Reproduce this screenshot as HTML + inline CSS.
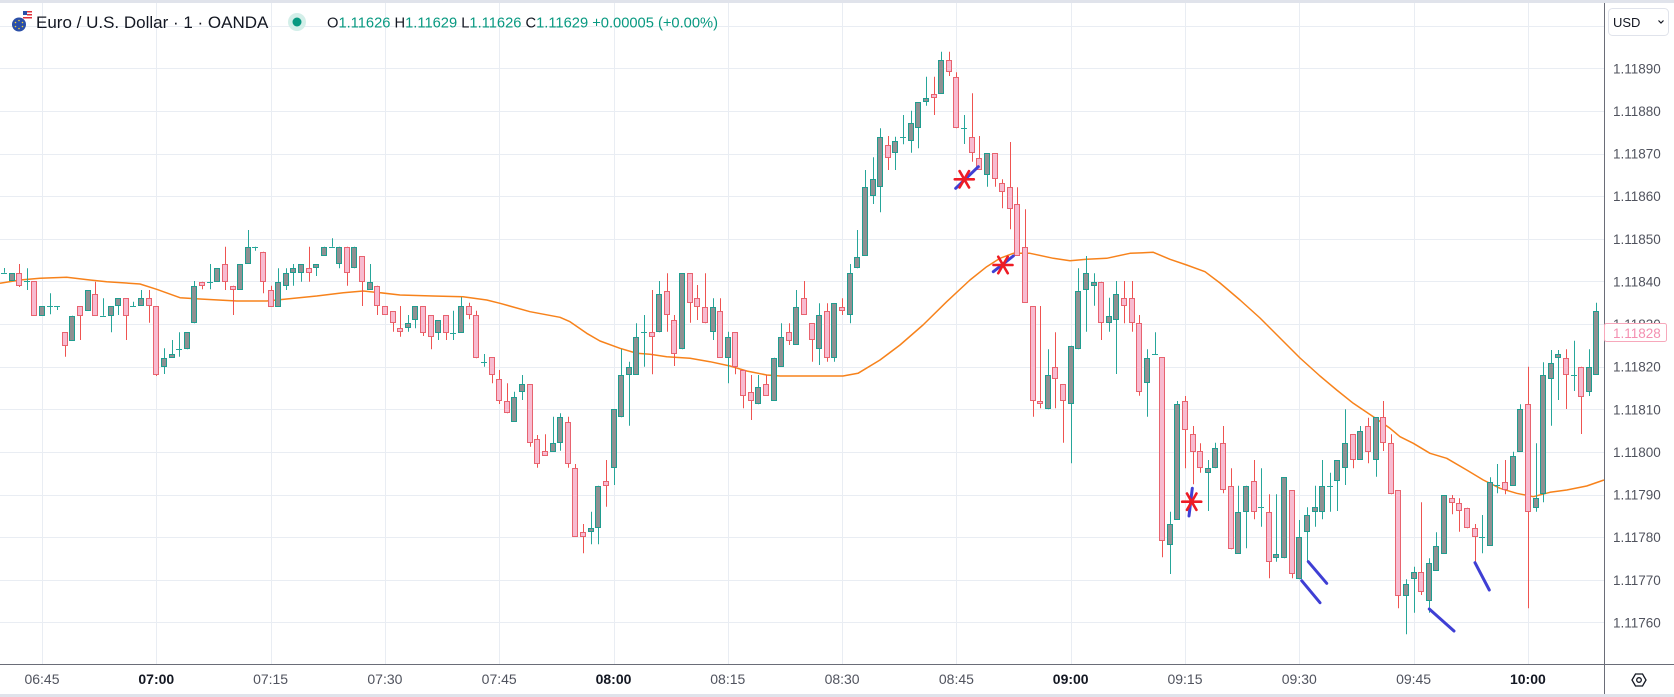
<!DOCTYPE html>
<html><head><meta charset="utf-8"><style>
html,body{margin:0;padding:0;background:#fff;width:1674px;height:697px;overflow:hidden}
svg{position:absolute;left:0;top:0;font-family:"Liberation Sans",sans-serif}
</style></head><body>
<svg id="c" width="1674" height="697" xmlns="http://www.w3.org/2000/svg">
<rect x="0" y="0" width="1674" height="697" fill="#fff"/>
<g id="grid"></g>
<polyline fill="none" stroke="#f7821b" stroke-width="1.5" stroke-linejoin="round" points="0,283.3 20,280 40,278.3 66.7,277.3 90,280 106.7,281.7 140,284 156.7,289.3 180,297.7 200,299 236.7,301 266.7,301 286.7,299 316.7,296 343.3,292.7 363.3,291 380,292.7 400,295 433,296 463,296.7 486.7,300 500,303.3 530,311.7 560,317.3 570,321.7 586.7,333.3 600,341 620,348.3 636.7,353.3 650,354.3 666.7,356.7 690,358.3 710,361.7 730,366 746.7,371 766.7,375 780,376 843,376 858,373.3 880,360 900,345 923,325 946.7,301.7 970,280 986.7,266.7 1000,258.3 1013.3,253.3 1030,253.3 1053.3,258.3 1070,260.7 1086.7,259.3 1106.7,258.3 1130,253.3 1153.3,252.3 1170,259.3 1186.7,265 1205,271.7 1220,283 1240,300 1260,318 1280,338 1300,358 1320,376 1336.7,390 1353.3,403.3 1373.3,416.7 1390,428.3 1400,436.7 1413.3,443.3 1430,453.3 1446.7,458.3 1466.7,470 1483.3,480 1500,488.3 1516.7,493.3 1533.3,496.7 1550,492.3 1566.7,490 1586.7,486 1604,480"/>
<g id="candles"></g>
<g id="marks"></g>
<rect x="1605" y="0" width="69" height="664" fill="#fff"/>
<rect x="0" y="665" width="1674" height="29" fill="#fff"/>
<line x1="1604.5" y1="0" x2="1604.5" y2="694" stroke="#6a6d78" stroke-width="1"/>
<line x1="0" y1="664.5" x2="1674" y2="664.5" stroke="#6a6d78" stroke-width="1"/>
<rect x="0" y="694" width="1674" height="3" fill="#e0e3eb"/>
<rect x="0" y="0" width="1674" height="3" fill="#e0e3eb"/>
<g font-size="13.5" fill="#50535e">
<text x="1613" y="73.3">1.11890</text>
<text x="1613" y="116">1.11880</text>
<text x="1613" y="158.6">1.11870</text>
<text x="1613" y="201.2">1.11860</text>
<text x="1613" y="243.9">1.11850</text>
<text x="1613" y="286.5">1.11840</text>
<text x="1613" y="329.1">1.11830</text>
<text x="1613" y="371.7">1.11820</text>
<text x="1613" y="414.3">1.11810</text>
<text x="1613" y="457">1.11800</text>
<text x="1613" y="499.6">1.11790</text>
<text x="1613" y="542.2">1.11780</text>
<text x="1613" y="584.9">1.11770</text>
<text x="1613" y="627.5">1.11760</text>
</g>
<rect x="1604.5" y="323.5" width="62" height="18" rx="2" fill="#fff" stroke="#f7a8bb" stroke-width="1"/>
<text x="1613" y="338" font-size="13.5" fill="#f48fb1">1.11828</text>
<rect x="1608.5" y="8.5" width="60" height="27" rx="4" fill="#fff" stroke="#e0e3eb"/>
<text x="1613" y="27" font-size="13" fill="#131722">USD</text>
<path d="M1658.5,20.5 L1661,23 L1663.5,20.5" fill="none" stroke="#131722" stroke-width="1.2"/>
<polygon points="1646,680 1642.5,686 1635.5,686 1632,680 1635.5,674 1642.5,674" fill="none" stroke="#131722" stroke-width="1.3"/>
<circle cx="1639" cy="680" r="2.3" fill="none" stroke="#131722" stroke-width="1.3"/>
<g font-size="14" fill="#50535e" text-anchor="middle">
<text x="42" y="684">06:45</text>
<text x="156.3" y="684" font-weight="bold" fill="#131722">07:00</text>
<text x="270.6" y="684">07:15</text>
<text x="384.9" y="684">07:30</text>
<text x="499.2" y="684">07:45</text>
<text x="613.5" y="684" font-weight="bold" fill="#131722">08:00</text>
<text x="727.8" y="684">08:15</text>
<text x="842.1" y="684">08:30</text>
<text x="956.4" y="684">08:45</text>
<text x="1070.7" y="684" font-weight="bold" fill="#131722">09:00</text>
<text x="1185" y="684">09:15</text>
<text x="1299.3" y="684">09:30</text>
<text x="1413.6" y="684">09:45</text>
<text x="1527.9" y="684" font-weight="bold" fill="#131722">10:00</text>
</g>
<circle cx="19" cy="24.5" r="7" fill="#2a4fa8"/>
<g fill="#f2d13a"><circle cx="19" cy="20.5" r="0.8"/><circle cx="22.5" cy="22.5" r="0.8"/><circle cx="22.5" cy="26.5" r="0.8"/><circle cx="19" cy="28.5" r="0.8"/><circle cx="15.5" cy="26.5" r="0.8"/><circle cx="15.5" cy="22.5" r="0.8"/></g>
<rect x="23" y="11" width="9" height="8" fill="#fff"/>
<rect x="23" y="11" width="4" height="4" fill="#2a4fa8"/>
<rect x="27" y="11" width="5" height="1.5" fill="#e0303a"/>
<rect x="27" y="14" width="5" height="1.5" fill="#e0303a"/>
<rect x="23" y="17" width="9" height="1.5" fill="#e0303a"/>
<text x="36" y="28" font-size="17" fill="#131722">Euro / U.S. Dollar · 1 · OANDA</text>
<circle cx="297" cy="22" r="9" fill="#d3efe9"/>
<circle cx="297" cy="22" r="4.5" fill="#089981"/>
<text x="327" y="27.5" font-size="14.7"><tspan fill="#131722">O</tspan><tspan fill="#089981">1.11626</tspan><tspan fill="#131722"> H</tspan><tspan fill="#089981">1.11629</tspan><tspan fill="#131722"> L</tspan><tspan fill="#089981">1.11626</tspan><tspan fill="#131722"> C</tspan><tspan fill="#089981">1.11629</tspan><tspan fill="#089981"> +0.00005 (+0.00%)</tspan></text>
</svg>
<script>
(function(){
var NS='http://www.w3.org/2000/svg';
function el(p,t,a){var e=document.createElementNS(NS,t);for(var k in a)e.setAttribute(k,a[k]);p.appendChild(e);return e;}
var G=document.getElementById('grid');
for(var j=-1;j<=13;j++){var y=Math.round(68.3+42.63*j)+0.5;el(G,'line',{x1:0,x2:1604,y1:y,y2:y,stroke:'#e9edf3','stroke-width':1});}
for(var n=0;n<=13;n++){var x=Math.round(42+114.3*n)+0.5;el(G,'line',{x1:x,x2:x,y1:3,y2:664,stroke:'#e9edf3','stroke-width':1});}
var D=[
[-5,272.7,272.7,268,0],[-4,281,273.3,0,0],[-3,273.3,285.7,264,287],[-2,281,281,268.3,290],[-1,281,315.7,0,0],
[0,315.7,306,0,0],[1,306,306,293.3,314.3],[2,306,306,0,310],[3,332.3,345.7,0,356.7],[4,340.7,315.7,0,0],
[5,306,315.7,0,340],[6,311,290,0,0],[7,294,315.7,281.7,0],[8,315.7,315.7,298.3,0],[9,315.7,306,0,332.3],
[10,306,298.3,0,315],[11,298.3,315.7,0,340],[12,306,306,301.7,0],[13,306,298.3,290,0],[14,298.3,306,290,322.7],
[15,306,375,0,376],[16,366.7,357.7,348.3,374],[17,357.7,354.3,340,0],[18,349,349,332.3,356.7],[19,349.3,332.3,0,0],
[20,323.3,286,281,0],[21,281.7,285.7,0,289.3],[22,281.7,281.7,264,289.3],[23,281.7,268.3,0,0],[24,264,281.7,246.7,290],
[25,285.7,290,0,315],[26,290,264,0,0],[27,264,246.7,230,0],[28,246.7,246.7,0,250.7],[29,251.7,281.7,0,293.3],
[30,290,306.7,285.7,0],[31,306.7,281.7,268.3,0],[32,285.7,273.3,268.3,290],[33,273.3,268.3,264,285.7],[34,273.3,264,0,281.7],
[35,268.3,273.3,246.7,281.7],[36,268.3,264,0,276],[37,256,246.7,0,0],[38,246.7,246.7,238.3,0],[39,264,246.7,0,268.3],
[40,246.7,273.3,0,285.7],[41,268.3,246.7,0,0],[42,256,281.7,0,306],[43,290,281.7,264,0],[44,285.7,306,0,315],
[45,306,315,0,0],[46,311,323.3,0,331.7],[47,328,332.3,306,336.7],[48,328.3,323.3,315,331.7],[49,320,306,0,328.3],
[50,306,332.7,0,336],[51,315,337.3,0,349.3],[52,332.7,320,0,340],[53,315,332.7,0,340],[54,332.7,332.7,310.7,340],
[55,332.7,306,297.3,0],[56,306,315,302.7,319.3],[57,315,358.3,310.7,0],[58,361.7,361.7,354,366.7],[59,357.3,375,0,383.3],
[60,379.3,401,370,404],[61,401,413.3,383.3,0],[62,421.7,396.7,391.7,0],[63,391.7,384,375,400],[64,384,443.3,0,446.7],
[65,439,464,435,467.7],[66,451.3,456,434.3,0],[67,451.7,443.3,416.7,0],[68,443.3,417.3,413.3,450.7],[69,421.7,464,416.7,467.7],
[70,468.3,536.7,464,0],[71,532.3,536.7,524,553.3],[72,532.3,528,511.7,544.3],[73,528,485.7,0,544.3],[74,481,485.7,460,506.7],
[75,468.3,409.3,0,485],[76,417.3,375,349.3,0],[77,375,366.7,361.7,425.7],[78,375,337.3,323.3,0],[79,332.3,332.3,315,366.7],
[80,332.3,337.3,290,374.3],[81,332.3,294,281,0],[82,290.7,315,273.3,331.7],[83,320,354.3,315,366],[84,349.3,273.3,0,0],
[85,273.3,302.7,0,322.7],[86,298.3,306.7,285,320],[87,306.7,323.3,273.3,0],[88,332.3,306.7,298.3,340],[89,311,357.7,298.3,0],
[90,357.7,337.3,331.7,383.3],[91,332.3,366.7,0,374.3],[92,370,396,0,408.3],[93,392.3,401,375,420],[94,404.3,387.3,375,0],
[95,384,396,375,0],[96,401,357.7,0,0],[97,366.7,337.3,323.3,0],[98,332.3,340.7,323.3,345],[99,345,306.7,290,0],
[100,298.3,315,281,0],[101,323.3,340,0,361.7],[102,349.3,315,303.3,365],[103,311,357.7,303.3,361.7],[104,357.7,303.3,0,361.7],
[105,306.7,311,298.3,315],[106,315,273.3,264,323.3],[107,268.3,256.7,230,0],[108,256,187.3,170,0],[109,195.7,179.3,157.3,204],
[110,187.3,136.7,128.3,212.3],[111,145,158.3,136,170],[112,153.3,141,136.7,170],[113,136.7,136.7,115,144.3],[114,141,123.3,110.7,152.7],
[115,128.3,102.3,0,148.3],[116,102.3,98.3,76.7,105.7],[117,94,98.3,76.7,115],[118,94,60,51.7,0],[119,60,72.3,51.7,76],
[120,76.7,128.3,72.3,0],[121,128.3,128.3,115,144],[122,136.7,153.3,93.3,161.7],[123,157.7,170,136,0],[124,175,153.3,0,186.7],
[125,153.3,179.3,0,186.7],[126,183.3,192.3,179.3,208.3],[127,187.3,209.3,142,229.3],[128,204.3,256,187.3,0],[129,247.3,302.7,209.3,0],
[130,306,401,0,416.7],[131,401,404.3,306,408.3],[132,409.3,375,349.3,0],[133,366.7,379.3,332.3,408.3],[134,384,401,0,442.7],
[135,404.3,345.7,0,463.3],[136,349.3,290.7,268.3,0],[137,290,273.3,256,331.7],[138,285.7,281.7,273.3,305.7],[139,281.7,323.3,0,340],
[140,323.3,315.7,297.7,331.7],[141,320,294,281,374],[142,298.3,306,281,323.3],[143,298.3,323.3,281,331.7],[144,323.3,391.7,315,395.7],
[145,383.3,358.3,349.3,416.7],[146,354,354,332.3,0],[147,357.3,541,0,557.3],[148,545,524.3,511.7,574],[149,520,404.3,401,0],
[150,401,430,396,468.3],[151,434.3,451.7,426,484.3],[152,451,468.3,443.3,472.7],[153,472.7,468.3,460,511],[154,468.3,447.7,442.7,0],
[155,443.3,490,426,493.3],[156,485.7,549.3,468.3,0],[157,554,511.7,485.7,0],[158,511.7,485.7,0,548.3],[159,481,511.7,460,519.3],
[160,507.3,507.3,468.3,526.7],[161,511.7,562.3,494.3,578.3],[162,558.3,554,494.3,561.7],[163,558.3,477.3,0,0],[164,490,574.3,0,578.3],
[165,579.3,536.7,520,0],[166,532.3,515,507.3,561.7],[167,511.7,507.3,485.7,526.7],[168,511.7,485.7,460,519.3],[169,485.7,485.7,472.7,511.7],
[170,481,460,0,511],[171,468.3,443.3,409.3,485],[172,434.3,460,0,468.3],[173,460,430.7,426,0],[174,426,451.7,417.7,463.3],
[175,460,417.3,0,476.7],[176,417.3,443.3,401,451],[177,443.3,494.3,434.3,0],[178,490,596,0,608.3],[179,596,584,579.3,634.3],
[180,579.3,571.7,566.7,612.7],[181,571.7,591.7,502.3,595],[182,600.7,562.7,558.3,612.7],[183,571,545.7,532.3,0],[184,554,495,0,0],
[185,498.3,502.7,495,514.3],[186,502.7,511,498.3,531.7],[187,507.7,528.3,0,0],[188,528.3,537.3,524,561.7],[189,537.3,537.3,515,553.3],
[190,545.7,481.7,477.3,0],[191,485,485,464,493.3],[192,481.7,490,460,494.3],[193,485.7,456,451.7,0],[194,451.7,409.3,404.3,0],
[195,404.3,511.7,366.7,608.3],[196,507.7,498.3,443.3,511.7],[197,494.3,375,362.3,502.3],[198,379.3,362.7,350,425.7],[199,357.7,354.3,350,400],
[200,357.7,375,349.3,409],[201,375,375,340.7,391],[202,366.7,396.7,0,434],[203,391.7,366.7,349.3,396],[204,375,311,302.7,0]
];
var C=document.getElementById('candles');
for(var i=0;i<D.length;i++){
 var d=D[i],k=d[0],o=d[1],c=d[2];
 var cx=Math.round(42+7.62*k);
 var top=Math.min(o,c),bot=Math.max(o,c);
 var h=d[3]||top,l=d[4]||bot;
 var doji=(o===c),bull=(c<o);
 var wc=(bull||doji)?'#26a69a':'#ef5350';
 if(l-h>0.5) el(C,'line',{x1:cx+0.5,x2:cx+0.5,y1:h,y2:l,stroke:wc,'stroke-width':1});
 if(doji){var yy=Math.round(o)+0.5;el(C,'line',{x1:cx-3,x2:cx+3,y1:yy,y2:yy,stroke:wc,'stroke-width':1});}
 else{
  var t=Math.round(top),b=Math.round(bot);var hh=Math.max(b-t,2);
  el(C,'rect',{x:cx-2.5,y:t+0.5,width:5,height:hh-1,fill:bull?'#8f9092':'#f8bbd0',stroke:bull?'#1f9d8f':'#e8636f','stroke-width':1});
 }
}
var M=document.getElementById('marks');
var blues=[[955.7,188.3,978.3,166.7],[993.3,271.7,1013.3,256],[1192.3,488.3,1189,516],[1301.7,580.7,1320,602.7],[1308.3,561.7,1326.7,583.3],[1429.3,609,1454,631],[1475,562.7,1489.3,590]];
for(var i=0;i<blues.length;i++){var b=blues[i];el(M,'line',{x1:b[0],y1:b[1],x2:b[2],y2:b[3],stroke:'#3f3fd4','stroke-width':3,'stroke-linecap':'round'});}
var stars=[[964.3,179.3],[1003,265],[1191.7,501.7]];
for(var i=0;i<stars.length;i++){var s=stars[i];for(var a=0;a<3;a++){var ang=a*Math.PI/3,r=9.5;el(M,'line',{x1:s[0]-r*Math.cos(ang),y1:s[1]-r*Math.sin(ang),x2:s[0]+r*Math.cos(ang),y2:s[1]+r*Math.sin(ang),stroke:'#ee1c25','stroke-width':2.6,'stroke-linecap':'round'});}}
})();
</script>
</body></html>
